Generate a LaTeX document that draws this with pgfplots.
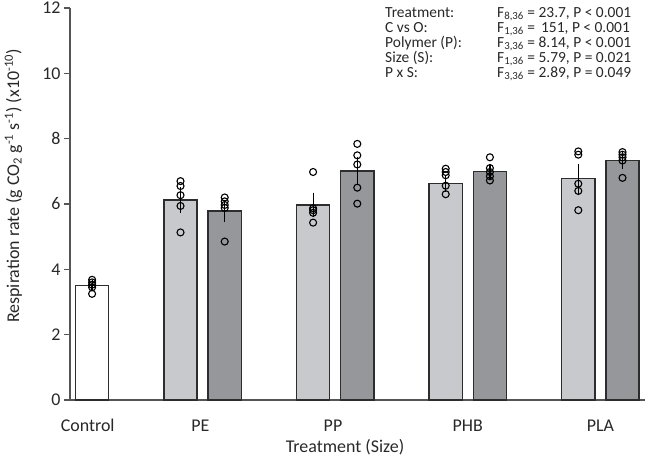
\documentclass[border=0pt]{standalone}
\usepackage{fontspec}
\setmainfont{Carlito}
\usepackage{pgfplots}
\pgfplotsset{compat=1.18}
\usepackage{pgfplotstable}

\definecolor{barlight}{RGB}{200,201,204}
\definecolor{bardark}{RGB}{150,151,155}
\definecolor{edgegray}{RGB}{45,45,45}
\definecolor{axisgray}{RGB}{85,85,85}
\definecolor{txt}{RGB}{40,40,40}

% Bar slots: Control at 0; each polymer has a small (3k+2) and a large (3k+3) slot
\pgfplotstableread{
x y se
0 3.50 0.07
}\ctrltab
\pgfplotstableread{
x y se
2 6.12 0.28
5 5.97 0.27
8 6.63 0.15
11 6.77 0.36
}\smalltab
\pgfplotstableread{
x y se
3 5.79 0.24
6 7.01 0.33
9 6.99 0.12
12 7.33 0.14
}\largetab
% individual replicates (n = 5 per treatment)
\pgfplotstableread{
x v
0 3.68
0 3.60
0 3.53
0 3.45
0 3.25
2 6.70
2 6.55
2 6.27
2 5.94
2 5.13
3 6.20
3 6.08
3 5.97
3 5.88
3 4.85
5 6.98
5 5.87
5 5.81
5 5.73
5 5.43
6 7.84
6 7.49
6 7.21
6 6.50
6 6.01
8 7.08
8 6.98
8 6.88
8 6.56
8 6.30
9 7.43
9 7.10
9 6.98
9 6.85
9 6.72
11 7.61
11 7.51
11 6.62
11 6.40
11 5.81
12 7.59
12 7.51
12 7.43
12 7.33
12 6.80
}\reps

\pgfplotsset{
  barstyle/.style={ybar, bar width=0.75, bar shift=0pt, draw=edgegray, line width=1.3bp,
    error bars/y dir=both, error bars/y explicit,
    error bars/error bar style={black, line width=1.2bp},
    error bars/error mark options={black, line width=1.2bp, mark size=3.5bp}},
}

\begin{document}
\begin{tikzpicture}
\useasboundingbox (0,0) rectangle (646bp,457bp);
\begin{axis}[
  at={(70bp,57bp)}, anchor=south west,
  scale only axis, width=574.6bp, height=392bp,
  xmin=-0.5, xmax=12.5, ymin=0, ymax=12,
  axis x line*=bottom, axis y line*=left,
  axis line style={axisgray, line width=1.1bp},
  ytick={0,2,...,12}, tick align=outside, major tick length=6bp,
  ytick style={axisgray, line width=1.1bp},
  xtick={-0.1,2.45,5.45,8.5,11.5},
  xticklabels={Control,PE,PP,PHB,PLA},
  xtick style={draw=none},
  tick label style={font=\fontsize{18}{20}\selectfont, text=txt},
  xticklabel style={anchor=base, yshift=-25bp},
  /pgf/number format/assume math mode=true,
  clip=false,
]
\addplot[barstyle, fill=white] table[x=x, y=y, y error=se] {\ctrltab};
\addplot[barstyle, fill=barlight] table[x=x, y=y, y error=se] {\smalltab};
\addplot[barstyle, fill=bardark] table[x=x, y=y, y error=se] {\largetab};
\addplot[only marks, mark=o, mark size=3.5bp, mark options={draw=black, line width=1.1bp}]
  table[x=x, y=v] {\reps};
\end{axis}

% axis titles
\node[rotate=90, anchor=base, font=\fontsize{18}{20}\selectfont, text=txt] at (19bp,271bp)
  {Respiration rate (g CO\textsubscript{2} g\textsuperscript{-1} s\textsuperscript{-1}) (x10\textsuperscript{-10})};
\node[anchor=base, font=\fontsize{18}{20}\selectfont, text=txt] at (345bp,4.5bp) {Treatment (Size)};

% ANOVA summary
\begin{scope}[every node/.style={anchor=base west, inner sep=0pt, font=\fontsize{15.5}{17}\selectfont, text=txt}]
\node at (385bp,439.7bp) {Treatment:};
\node at (385bp,424.7bp) {C vs O:};
\node at (385bp,409.7bp) {Polymer (P):};
\node at (385bp,394.7bp) {Size (S):};
\node at (385bp,379.7bp) {P x S:};
\node at (497bp,439.7bp) {F\textsubscript{8,36} = 23.7, P < 0.001};
\node at (497bp,424.7bp) {F\textsubscript{1,36} = \,151, P < 0.001};
\node at (497bp,409.7bp) {F\textsubscript{3,36} = 8.14, P < 0.001};
\node at (497bp,394.7bp) {F\textsubscript{1,36} = 5.79, P = 0.021};
\node at (497bp,379.7bp) {F\textsubscript{3,36} = 2.89, P = 0.049};
\end{scope}
\end{tikzpicture}
\end{document}
